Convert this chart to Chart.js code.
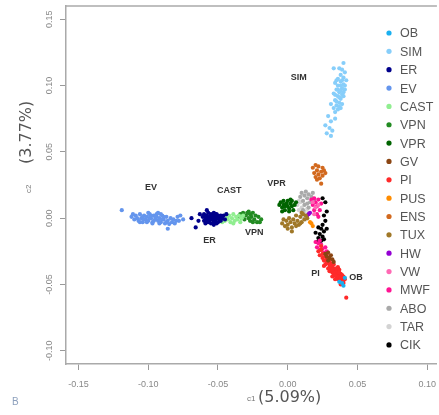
<!DOCTYPE html>
<html>
<head>
<meta charset="utf-8">
<title>PCA c1 / c2</title>
<script src="https://cdn.jsdelivr.net/npm/chart.js@4.4.1/dist/chart.umd.min.js"></script>
<style>
  html, body { margin: 0; padding: 0; background: #fff; }
  #wrap { width: 439px; height: 415px; position: relative; }
</style>
</head>
<body>
<div id="wrap"><canvas id="pcaChart"></canvas></div>
<script>
// population groups, legend order
const groupNames = ['OB', 'SIM', 'ER', 'EV', 'CAST', 'VPN', 'VPR', 'GV', 'PI', 'PUS', 'ENS', 'TUX', 'HW', 'VW', 'MWF', 'ABO', 'TAR', 'CIK'];
const groupColors = ['#1AB0F0', '#87CEFA', '#00008B', '#6495ED', '#90EE90', '#228B22', '#006400', '#8B4513', '#FF2A2A',
  '#FF8C00', '#D2691E', '#A07828', '#9400D3', '#FF69B4', '#FF1493', '#A9A9A9', '#D3D3D3', '#000000'];

// [c1, c2] scores per individual
const OB = [[0.039, -0.049], [0.041, -0.045], [0.040, -0.051], [0.037, -0.048]];
const SIM = [[0.040, 0.117], [0.039, 0.112], [0.041, 0.110], [0.037, 0.113], [0.038, 0.108], [0.040, 0.106], [0.042, 0.104],
  [0.036, 0.105], [0.038, 0.103], [0.040, 0.101], [0.034, 0.102], [0.036, 0.100], [0.039, 0.098], [0.041, 0.097],
  [0.035, 0.097], [0.037, 0.095], [0.039, 0.093], [0.033, 0.094], [0.036, 0.092], [0.038, 0.090], [0.040, 0.092],
  [0.034, 0.089], [0.037, 0.087], [0.039, 0.086], [0.035, 0.085], [0.033, 0.083], [0.036, 0.082], [0.038, 0.083],
  [0.034, 0.080], [0.031, 0.086], [0.033, 0.113], [0.029, 0.077], [0.031, 0.073], [0.027, 0.070], [0.030, 0.068],
  [0.032, 0.066], [0.028, 0.064], [0.031, 0.062], [0.034, 0.075], [0.035, 0.104], [0.038, 0.100], [0.036, 0.097],
  [0.040, 0.095], [0.037, 0.091], [0.035, 0.088], [0.039, 0.104], [0.041, 0.100], [0.034, 0.093], [0.037, 0.084],
  [0.038, 0.096]];
const ER = [[-0.061, 0.001], [-0.060, -0.002], [-0.060, 0.003], [-0.059, 0.000], [-0.059, -0.004], [-0.058, 0.002],
  [-0.058, -0.001], [-0.057, 0.004], [-0.057, -0.003], [-0.056, 0.001], [-0.056, -0.002], [-0.055, 0.003], [-0.055, 0.000],
  [-0.055, -0.004], [-0.054, 0.002], [-0.054, -0.001], [-0.053, 0.004], [-0.053, -0.003], [-0.052, 0.001], [-0.052, -0.002],
  [-0.051, 0.003], [-0.051, 0.000], [-0.050, -0.003], [-0.050, 0.002], [-0.049, -0.001], [-0.049, 0.001], [-0.048, -0.002],
  [-0.047, 0.000], [-0.046, 0.002], [-0.045, -0.001], [-0.069, 0.000], [-0.066, -0.007], [-0.058, 0.006], [-0.063, 0.003],
  [-0.064, -0.002], [-0.044, 0.003], [-0.053, -0.005], [-0.057, 0.000], [-0.059, 0.002], [-0.056, -0.001], [-0.054, 0.000],
  [-0.052, 0.003], [-0.050, 0.000], [-0.058, -0.003], [-0.055, 0.002], [-0.053, -0.001], [-0.051, -0.004], [-0.048, 0.002]];
const EV = [[-0.119, 0.006], [-0.112, 0.001], [-0.110, -0.001], [-0.109, 0.002], [-0.107, -0.002], [-0.106, 0.003],
  [-0.105, 0.000], [-0.104, -0.003], [-0.103, 0.002], [-0.102, -0.001], [-0.101, 0.001], [-0.100, -0.002], [-0.099, 0.003],
  [-0.098, 0.000], [-0.097, -0.003], [-0.096, 0.002], [-0.095, -0.001], [-0.094, 0.001], [-0.093, -0.002], [-0.092, 0.000],
  [-0.091, -0.003], [-0.090, 0.002], [-0.089, -0.001], [-0.088, -0.004], [-0.087, 0.001], [-0.086, -0.002], [-0.085, -0.0045],
  [-0.084, 0.000], [-0.083, -0.003], [-0.082, -0.001], [-0.080, -0.002], [-0.079, 0.001], [-0.077, 0.002], [-0.086, -0.008],
  [-0.093, 0.004], [-0.100, 0.004], [-0.106, -0.003], [-0.097, -0.004], [-0.091, 0.003], [-0.075, -0.001], [-0.108, 0.000],
  [-0.104, 0.001], [-0.101, -0.003], [-0.099, 0.000], [-0.096, -0.002], [-0.094, 0.003], [-0.092, -0.004], [-0.089, 0.001],
  [-0.087, -0.003], [-0.103, -0.001], [-0.098, 0.002], [-0.095, 0.001], [-0.090, -0.001], [-0.111, 0.003], [-0.081, -0.004],
  [-0.078, -0.002]];
const CAST = [[-0.046, 0.001], [-0.045, -0.002], [-0.044, 0.003], [-0.043, -0.001], [-0.042, 0.002], [-0.041, -0.003],
  [-0.040, 0.000], [-0.039, 0.003], [-0.038, -0.002], [-0.037, 0.001], [-0.036, -0.001], [-0.035, 0.002], [-0.034, -0.003],
  [-0.033, 0.000], [-0.032, 0.002], [-0.043, 0.001], [-0.039, -0.004], [-0.047, -0.003]];
const VPN = [[-0.036, 0.001], [-0.034, 0.003], [-0.033, 0.000], [-0.032, 0.004], [-0.031, -0.001], [-0.030, 0.002],
  [-0.029, 0.004], [-0.028, 0.000], [-0.027, 0.003], [-0.027, -0.002], [-0.026, 0.001], [-0.025, 0.004], [-0.024, -0.001],
  [-0.023, 0.002], [-0.022, -0.003], [-0.021, 0.001], [-0.020, -0.003], [-0.019, -0.001], [-0.028, 0.005], [-0.025, -0.003]];
const VPR = [[-0.006, 0.010], [-0.005, 0.012], [-0.004, 0.008], [-0.003, 0.013], [-0.003, 0.010], [-0.002, 0.006],
  [-0.001, 0.011], [0.000, 0.009], [0.000, 0.013], [0.001, 0.007], [0.002, 0.011], [0.003, 0.009], [0.003, 0.013],
  [0.004, 0.006], [0.005, 0.010], [0.006, 0.012], [-0.004, 0.005], [0.001, 0.005], [0.002, 0.014], [-0.002, 0.009]];
const GV = [[0.027, -0.027], [0.028, -0.029], [0.029, -0.026], [0.030, -0.030], [0.031, -0.028], [0.032, -0.031],
  [0.033, -0.033], [0.029, -0.032]];
const PI = [[0.022, -0.025], [0.023, -0.028], [0.024, -0.024], [0.025, -0.030], [0.025, -0.027], [0.026, -0.032],
  [0.027, -0.029], [0.027, -0.035], [0.028, -0.031], [0.028, -0.027], [0.029, -0.034], [0.029, -0.038], [0.030, -0.032],
  [0.030, -0.036], [0.031, -0.039], [0.031, -0.034], [0.032, -0.037], [0.032, -0.041], [0.033, -0.035], [0.033, -0.039],
  [0.033, -0.043], [0.034, -0.038], [0.034, -0.041], [0.035, -0.044], [0.035, -0.040], [0.036, -0.042], [0.036, -0.046],
  [0.037, -0.039], [0.037, -0.044], [0.038, -0.047], [0.038, -0.042], [0.039, -0.045], [0.039, -0.049], [0.040, -0.044],
  [0.040, -0.047], [0.041, -0.046], [0.036, -0.037], [0.034, -0.046], [0.030, -0.040], [0.042, -0.060], [0.026, -0.036],
  [0.032, -0.044], [0.038, -0.050], [0.024, -0.021], [0.027, -0.032], [0.029, -0.030], [0.031, -0.036], [0.033, -0.041],
  [0.035, -0.038], [0.037, -0.041], [0.039, -0.043], [0.036, -0.044], [0.034, -0.043], [0.032, -0.039], [0.030, -0.034],
  [0.028, -0.033], [0.038, -0.045], [0.040, -0.049]];
const PUS = [[0.017, -0.004], [0.018, -0.006], [0.016, -0.003]];
const ENS = [[0.018, 0.038], [0.019, 0.034], [0.020, 0.040], [0.020, 0.031], [0.021, 0.036], [0.022, 0.033], [0.022, 0.039],
  [0.023, 0.030], [0.024, 0.035], [0.025, 0.038], [0.025, 0.032], [0.026, 0.036], [0.027, 0.034], [0.024, 0.026], [0.021, 0.029]];
const TUX = [[-0.004, -0.004], [-0.003, -0.001], [-0.002, -0.006], [-0.001, -0.002], [0.000, -0.005], [0.001, 0.000],
  [0.002, -0.003], [0.003, -0.007], [0.004, -0.001], [0.005, -0.004], [0.006, 0.002], [0.007, -0.002], [0.008, -0.005],
  [0.009, 0.001], [0.010, -0.003], [0.011, 0.003], [0.012, -0.001], [0.013, 0.002], [0.014, 0.000], [0.003, -0.010],
  [0.006, -0.006], [0.009, -0.004], [0.000, -0.008], [0.010, 0.004]];
const HW = [[0.015, 0.003], [0.016, 0.004], [0.014, 0.002]];
const VW = [[0.018, 0.012], [0.020, 0.008], [0.022, 0.010], [0.024, -0.021], [0.019, 0.003]];
const MWF = [[0.017, 0.014], [0.018, 0.010], [0.019, 0.015], [0.019, 0.006], [0.020, 0.012], [0.021, 0.003], [0.021, 0.009],
  [0.022, 0.014], [0.023, 0.006], [0.024, 0.011], [0.022, 0.001], [0.020, -0.018], [0.021, -0.022], [0.022, -0.019],
  [0.023, -0.024], [0.024, -0.020], [0.025, -0.023], [0.026, -0.026], [0.027, -0.022], [0.028, -0.025], [0.023, -0.017]];
const ABO = [[0.009, 0.016], [0.010, 0.019], [0.011, 0.013], [0.012, 0.017], [0.013, 0.020], [0.014, 0.015], [0.015, 0.018],
  [0.016, 0.012], [0.017, 0.016], [0.018, 0.019], [0.012, 0.010], [0.015, 0.008], [0.019, 0.014], [0.011, 0.006], [0.014, 0.011]];
const TAR = [[0.007, 0.010], [0.008, 0.006], [0.009, 0.012], [0.010, 0.003], [0.010, 0.008], [0.011, 0.000], [0.012, 0.005],
  [0.013, 0.002], [0.014, 0.007], [0.015, 0.004], [0.008, 0.013], [0.013, -0.001]];
const CIK = [[0.025, 0.015], [0.027, 0.012], [0.028, 0.005], [0.026, 0.002], [0.027, -0.002], [0.025, -0.005], [0.024, -0.008],
  [0.026, -0.010], [0.023, -0.012], [0.025, -0.014], [0.022, -0.015], [0.024, -0.017], [0.021, -0.018], [0.023, -0.019],
  [0.020, -0.011], [0.026, -0.016], [0.028, -0.008], [0.022, -0.007]];

const groupPoints = [OB, SIM, ER, EV, CAST, VPN, VPR, GV, PI, PUS, ENS, TUX, HW, VW, MWF, ABO, TAR, CIK];

// cluster names written next to the clouds, in data units
const tagText = ['SIM', 'EV', 'CAST', 'VPR', 'ER', 'VPN', 'PI', 'OB'];
const tagX = [0.008, -0.098, -0.042, -0.008, -0.056, -0.024, 0.020, 0.049];
const tagY = [0.106, 0.023, 0.021, 0.026, -0.017, -0.011, -0.042, -0.045];

// axis ranges and tick step
const c1Range = [-0.159, 0.107];
const c2Range = [-0.110, 0.160];
const tickStep = 0.05;

const FONT = "'Liberation Sans', Arial, sans-serif";
const TITLE_FONT = "'DejaVu Sans', Verdana, sans-serif";

const datasets = groupNames.map((name, i) => ({
  label: name,
  data: groupPoints[i].map(p => ({ x: p[0], y: p[1] })),
  backgroundColor: groupColors[i],
  borderWidth: 0,
  pointRadius: 2.1,
  pointHoverRadius: 2.1
}));

// extra drawing: top frame line, cloud tags, legend, axis titles, panel letter
const decorations = {
  id: 'decorations',
  afterDraw(chart) {
    const ctx = chart.ctx;
    const area = chart.chartArea;
    const xs = chart.scales.x, ys = chart.scales.y;
    ctx.save();

    ctx.strokeStyle = '#aaa';
    ctx.lineWidth = 1.5;
    ctx.beginPath();
    ctx.moveTo(area.left, area.top);
    ctx.lineTo(area.right, area.top);
    ctx.stroke();

    ctx.fillStyle = '#333';
    ctx.font = 'bold 9px ' + FONT;
    ctx.textAlign = 'center';
    ctx.textBaseline = 'middle';
    for (let i = 0; i < tagText.length; i++) {
      ctx.fillText(tagText[i], xs.getPixelForValue(tagX[i]), ys.getPixelForValue(tagY[i]));
    }

    // legend
    const lx = 389, ly = 33, step = 18.35;
    ctx.font = '12.5px ' + FONT;
    ctx.textAlign = 'left';
    for (let i = 0; i < groupNames.length; i++) {
      const y = ly + i * step;
      ctx.fillStyle = groupColors[i];
      ctx.beginPath();
      ctx.arc(lx, y, 2.6, 0, Math.PI * 2);
      ctx.fill();
      ctx.fillStyle = '#555';
      ctx.fillText(groupNames[i], lx + 11, y + 1);
    }

    // x title
    ctx.textBaseline = 'alphabetic';
    ctx.fillStyle = '#777';
    ctx.font = '8px ' + FONT;
    ctx.fillText('c1', 247, 401);
    ctx.fillStyle = '#555';
    ctx.font = '16px ' + TITLE_FONT;
    ctx.fillText('(5.09%)', 258, 402);

    // y title, rotated
    ctx.save();
    ctx.rotate(-Math.PI / 2);
    ctx.fillStyle = '#777';
    ctx.font = '8px ' + FONT;
    ctx.fillText('c2', -193, 31);
    ctx.fillStyle = '#555';
    ctx.font = '16px ' + TITLE_FONT;
    ctx.fillText('(3.77%)', -164, 31);
    ctx.restore();

    ctx.fillStyle = '#8da0bd';
    ctx.font = '10px ' + FONT;
    ctx.fillText('B', 12, 405);
    ctx.restore();
  }
};

new Chart(document.getElementById('pcaChart'), {
  type: 'scatter',
  data: { datasets: datasets },
  options: {
    responsive: true,
    maintainAspectRatio: false,
    animation: false,
    layout: { padding: { top: 6, left: 0, right: 0, bottom: 0 } },
    plugins: { legend: { display: false }, tooltip: { enabled: false } },
    scales: {
      x: {
        type: 'linear',
        min: c1Range[0],
        max: c1Range[1],
        grid: { drawOnChartArea: false, tickLength: 6, color: '#999' },
        border: { color: '#aaa', width: 1.5 },
        ticks: {
          stepSize: tickStep,
          includeBounds: false,
          maxRotation: 0,
          padding: 9,
          color: '#888',
          font: { family: FONT, size: 9 },
          callback: v => v.toFixed(2)
        },
        afterFit(scale) {
          scale.height = 51;
          scale.paddingLeft = 0;
          scale.paddingRight = 0;
        }
      },
      y: {
        type: 'linear',
        min: c2Range[0],
        max: c2Range[1],
        grid: { drawOnChartArea: false, tickLength: 6, color: '#999' },
        border: { color: '#aaa', width: 1.5 },
        ticks: {
          stepSize: tickStep,
          includeBounds: false,
          minRotation: 90,
          maxRotation: 90,
          crossAlign: 'center',
          padding: 0,
          color: '#888',
          font: { family: FONT, size: 9 },
          callback: v => v.toFixed(2)
        },
        afterFit(scale) {
          scale.width = 66;
          scale.paddingTop = 0;
          scale.paddingBottom = 0;
        }
      }
    }
  },
  plugins: [decorations]
});
</script>
</body>
</html>
